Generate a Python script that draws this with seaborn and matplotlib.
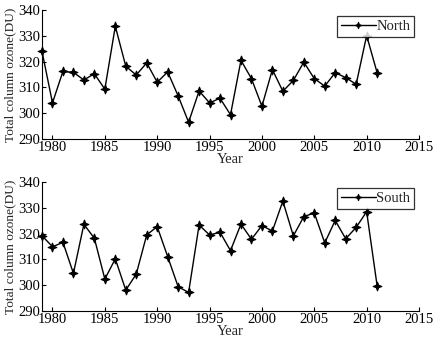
import numpy as np
import pandas as pd
import matplotlib
matplotlib.use("Agg")
import matplotlib.pyplot as plt
from matplotlib.path import Path
import seaborn as sns

years = list(range(1979, 2012))
north = [324, 304, 316.2, 315.8, 312.9, 315.3, 309.3, 333.7, 318.2, 314.8,
         319.5, 312.0, 316.0, 306.7, 296.5, 308.6, 304.0, 305.8, 299.4, 320.5,
         313.4, 302.7, 316.9, 308.5, 312.7, 319.8, 313.4, 310.5, 315.7, 313.8,
         311.2, 330.1, 315.7]
south = [319.2, 314.9, 316.6, 304.6, 323.6, 318.2, 302.4, 310.2, 298.1, 304.3,
         319.5, 322.7, 311.1, 299.4, 297.2, 323.3, 319.5, 320.5, 313.4, 323.7,
         317.8, 323.1, 321.0, 332.6, 319.1, 326.6, 328.0, 316.4, 325.1, 318.0,
         322.4, 328.5, 299.8]
xticks = [1980, 1985, 1990, 1995, 2000, 2005, 2010, 2015]
yticks = [290, 300, 310, 320, 330, 340]

sns.set_style("ticks")
plt.rcParams['font.family'] = ['Liberation Serif', 'DejaVu Serif']
FS = 10.5

# four-pointed star marker with slim arms
ang = np.arange(8) * np.pi / 4 + np.pi / 2
rad = np.where(np.arange(8) % 2 == 0, 1.0, 0.4)
verts = np.column_stack([rad * np.cos(ang), rad * np.sin(ang)])
verts = np.vstack([verts, verts[:1]])
codes = [Path.MOVETO] + [Path.LINETO] * 7 + [Path.CLOSEPOLY]
star = Path(verts, codes)

fig = plt.figure(figsize=(4.38, 3.48), dpi=100)
W, H = 438, 348
ax1 = fig.add_axes([42 / W, 1 - 139 / H, 377 / W, 129 / H])
ax2 = fig.add_axes([42 / W, 1 - 311 / H, 377 / W, 129 / H])

for ax, vals, name in [(ax1, north, "North"), (ax2, south, "South")]:
    df = pd.DataFrame({"Year": years, "Ozone": vals})
    sns.lineplot(data=df, x="Year", y="Ozone", ax=ax, color="black",
                 linewidth=1.0, marker=star, markersize=6.3,
                 markeredgecolor="black", markerfacecolor="black",
                 markeredgewidth=0.8, label=name, clip_on=False)
    ax.set_xlim(1979, 2015)
    ax.set_ylim(290, 340)
    ax.set_xticks(xticks)
    ax.set_yticks(yticks)
    ax.tick_params(direction="in", length=3, width=0.8, colors="black",
                   labelsize=FS, pad=1.5)
    for s in ["top", "right"]:
        ax.spines[s].set_visible(False)
    for s in ["left", "bottom"]:
        ax.spines[s].set_linewidth(0.8)
        ax.spines[s].set_color("black")
    ax.set_xlabel("Year", fontsize=FS, labelpad=-1)
    ax.set_ylabel("Total column ozone(DU)", fontsize=9.6, labelpad=1)
    leg = ax.legend(loc="upper right", bbox_to_anchor=(0.987, 0.953),
                    frameon=True, fancybox=False, handlelength=2.4,
                    handletextpad=0.05, borderpad=0.25, borderaxespad=0,
                    fontsize=FS)
    leg.get_frame().set_edgecolor("black")
    leg.get_frame().set_linewidth(0.9)
    for h in leg.legend_handles:
        h.set_markersize(4.5)

fig.savefig("out.png", dpi=100)
